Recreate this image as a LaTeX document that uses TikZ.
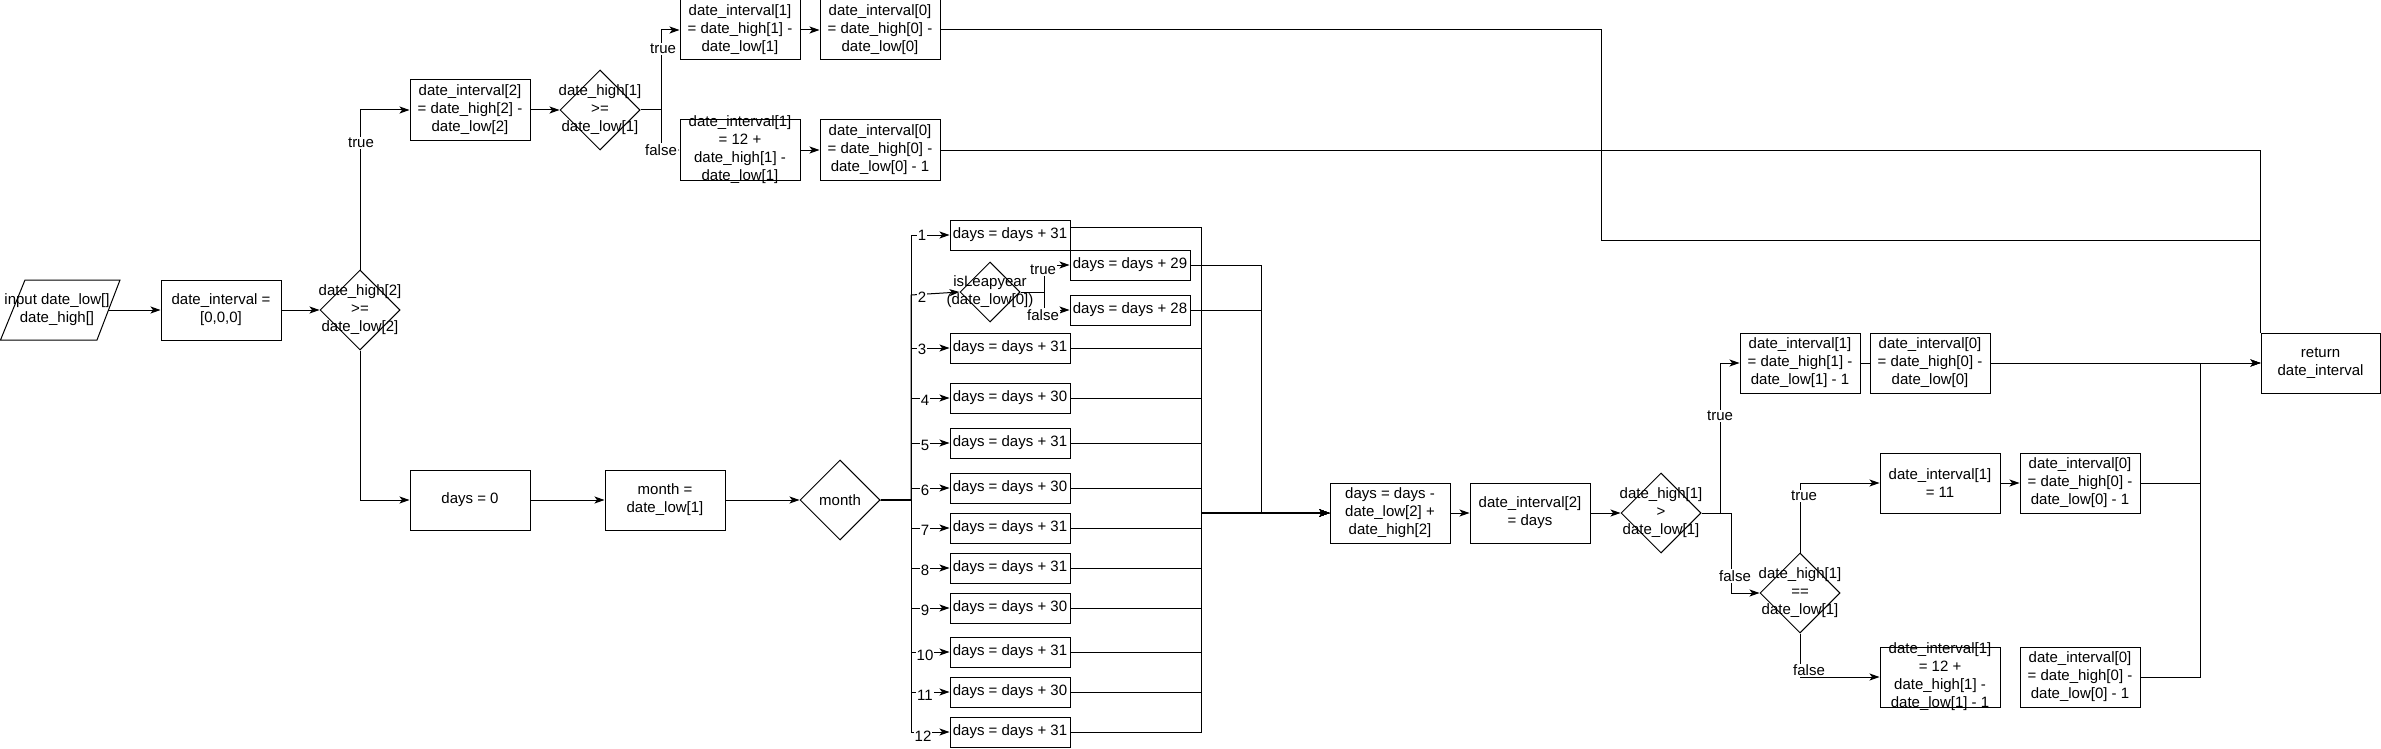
\documentclass[tikz,border=0pt]{standalone}
\usepackage{fontspec}
\setmainfont{Liberation Sans}
\usetikzlibrary{shapes.geometric,arrows.meta}
\newcommand\fs{\fontsize{15}{18}\selectfont}
\begin{document}
\begin{tikzpicture}[x=1pt,y=-1pt,line width=1pt,
  txt/.style={font=\fs,align=center,inner sep=0pt},
  box/.style={draw,minimum width=120pt,minimum height=60pt,inner sep=0pt,align=center,font=\fs},
  ebox/.style={draw,minimum width=120pt,minimum height=60pt,inner sep=0pt},
  sbox/.style={draw,minimum width=120pt,minimum height=30pt,inner sep=0pt,font=\fs},
  dia/.style={draw,diamond,minimum width=80pt,minimum height=80pt,inner sep=0pt},
  sdia/.style={draw,diamond,minimum width=60pt,minimum height=60pt,inner sep=0pt},
  arr/.style={-{Stealth[length=10pt,width=7pt,inset=2.5pt]}},
  lab/.style={font=\fs,fill=white,inner sep=1pt}]
\useasboundingbox (0,0) rectangle (2381,749);

% ---- start
\draw (25,280) -- (120,280) -- (97,340) -- (0.5,340) -- cycle;
\node[txt] (inp) at (57,310) {input date\_low[]\\date\_high[]};
\coordinate (inpE) at (109,310);
\node[box] (init) at (221,310) {date\_interval =\\{}[0,0,0]};
\node[dia] (d1) at (360,310) {};
\node[txt] (d1t) at (d1) {date\_high[2]\\>=\\date\_low[2]};

% ---- top branch
\node[box] (di2) at (470,110) {date\_interval[2]\\= date\_high[2] -\\date\_low[2]};
\node[dia] (d2) at (600,110) {};
\node[txt] (d2t) at (d2) {date\_high[1]\\>=\\date\_low[1]};
\node[box] (t1) at (740,30) {date\_interval[1]\\= date\_high[1] -\\date\_low[1]};
\node[box] (t0) at (880,30) {date\_interval[0]\\= date\_high[0] -\\date\_low[0]};
\node[ebox] (f1) at (740,150) {};
\node[txt] (f1t) at (f1) {date\_interval[1]\\= 12 +\\date\_high[1] -\\date\_low[1]};
\node[box] (f0) at (880,150) {date\_interval[0]\\= date\_high[0] -\\date\_low[0] - 1};

% ---- bottom branch
\node[box] (days0) at (470,500) {days = 0};
\node[box] (month) at (665,500) {month =\\date\_low[1]};
\node[dia] (mdia) at (840,500) {};
\node[txt] (mdiat) at (mdia) {month};

\node[sbox] (m1) at (1010,235) {days = days + 31};
\node[sdia] (leap) at (990,292) {};
\node[txt] (leapt) at (leap) {isLeapyear\\(date\_low[0])};
\node[sbox] (m29) at (1130,265) {days = days + 29};
\node[sbox] (m28) at (1130,310) {days = days + 28};
\node[sbox] (m3) at (1010,348) {days = days + 31};
\node[sbox] (m4) at (1010,398) {days = days + 30};
\node[sbox] (m5) at (1010,443) {days = days + 31};
\node[sbox] (m6) at (1010,488) {days = days + 30};
\node[sbox] (m7) at (1010,528) {days = days + 31};
\node[sbox] (m8) at (1010,568) {days = days + 31};
\node[sbox] (m9) at (1010,608) {days = days + 30};
\node[sbox] (m10) at (1010,652) {days = days + 31};
\node[sbox] (m11) at (1010,692) {days = days + 30};
\node[sbox] (m12) at (1010,732) {days = days + 31};

\node[box] (daysc) at (1390,513) {days = days -\\date\_low[2] +\\date\_high[2]};
\node[box] (di2d) at (1530,513) {date\_interval[2]\\= days};
\node[dia] (d3) at (1661,513) {};
\node[txt] (d3t) at (d3) {date\_high[1]\\>\\date\_low[1]};

\node[box] (a1) at (1800,363) {date\_interval[1]\\= date\_high[1] -\\date\_low[1] - 1};
\node[box] (a0) at (1930,363) {date\_interval[0]\\= date\_high[0] -\\date\_low[0]};
\node[dia] (d4) at (1800,593) {};
\node[txt] (d4t) at (d4) {date\_high[1]\\==\\date\_low[1]};
\node[box] (b1) at (1940,483) {date\_interval[1]\\= 11};
\node[box] (b0) at (2080,483) {date\_interval[0]\\= date\_high[0] -\\date\_low[0] - 1};
\node[ebox] (c1) at (1940,677) {};
\node[txt] (c1t) at (c1) {date\_interval[1]\\= 12 +\\date\_high[1] -\\date\_low[1] - 1};
\node[box] (c0) at (2080,677) {date\_interval[0]\\= date\_high[0] -\\date\_low[0] - 1};
\node[box,minimum width=119pt] (ret) at (2320.5,363) {return\\date\_interval};

% ---- connectors: start
\draw[arr] (inpE) -- (init);
\draw[arr] (init) -- (d1);
\draw[arr] (d1.north) |- (di2.west);
\draw[arr] (d1.south) |- (days0.west);

% top
\draw[arr] (di2) -- (d2);
\draw[arr] (d2.east) -- (661,110) |- (t1.west);
\draw[arr] (d2.east) -- (661,110) |- (f1.west);
\draw[arr] (t1) -- (t0);
\draw[arr] (f1) -- (f0);
\draw (t0.east) -- (1601,30) -- (1601,240) -| (ret.north west);
\draw (f0.east) -| (ret.north west);

% month
\draw[arr] (days0) -- (month);
\draw[arr] (month) -- (mdia);
\foreach \m in {m1,m3,m4,m5,m6,m7,m8,m9,m10,m11,m12}{
  \draw[arr] (mdia.east) -- (911,500) |- (\m.west);
}
\draw[arr] (mdia.east) -- (911,500) -- (911,295) -- (leap.west);
\draw[arr] (leap.east) -- (1044,292) |- (m29.west);
\draw[arr] (leap.east) -- (1044,292) |- (m28.west);

\draw[arr] ([yshift=8pt]m1.east) -| (1201,513) -- (daysc.west);
\foreach \m in {m3,m4,m5,m6,m7,m8,m9,m10,m11,m12}{
  \draw[arr] (\m.east) -| (1201,513) -- (daysc.west);
}
\draw[arr] (m29.east) -| (1261,513) -- (daysc.west);
\draw[arr] (m28.east) -| (1261,513) -- (daysc.west);
\draw[line width=1.6pt] (mdia.east) -- (911,500);
\draw[arr,line width=1.6pt] (1201,513) -- (daysc.west);

% after days
\draw[arr] (daysc) -- (di2d);
\draw[arr] (di2d) -- (d3);
\draw[arr] (d3.east) -- (1720,513) |- (a1.west);
\draw[arr] (d3.east) -- (1731,513) |- (d4.west);
\draw (a1) -- (a0);
\draw[arr] (a0) -- (ret);
\draw[arr] (d4.north) |- (b1.west);
\draw[arr] (b1) -- (b0);
\draw[arr] (b0.east) -- (2200,483) |- (ret.west);
\draw[arr] (d4.south) |- (c1.west);
\draw[arr] (c0.east) -- (2200,677) |- (ret.west);

% ---- edge labels
\node[lab] (l1) at (361,143) {true};
\node[lab] (l2) at (663,49) {true};
\node[lab] (l3) at (661,150) {false};
\node[lab] (l4) at (1043,270) {true};
\node[lab] (l5) at (1043,315) {false};
\node[lab] (l6) at (1720,416) {true};
\node[lab] (l7) at (1735,576) {false};
\node[lab] (l8) at (1804,496) {true};
\node[lab] (l9) at (1809,670) {false};
\node[lab] (n1) at (922,235) {1};
\node[lab] (n2) at (922,297) {2};
\node[lab] (n3) at (922,349) {3};
\node[lab] (n4) at (925,400) {4};
\node[lab] (n5) at (925,445) {5};
\node[lab] (n6) at (925,490) {6};
\node[lab] (n7) at (925,530) {7};
\node[lab] (n8) at (925,570) {8};
\node[lab] (n9) at (925,610) {9};
\node[lab] (n10) at (925,655) {10};
\node[lab] (n11) at (925,695) {11};
\node[lab] (n12) at (923,736) {12};
\end{tikzpicture}
\end{document}
